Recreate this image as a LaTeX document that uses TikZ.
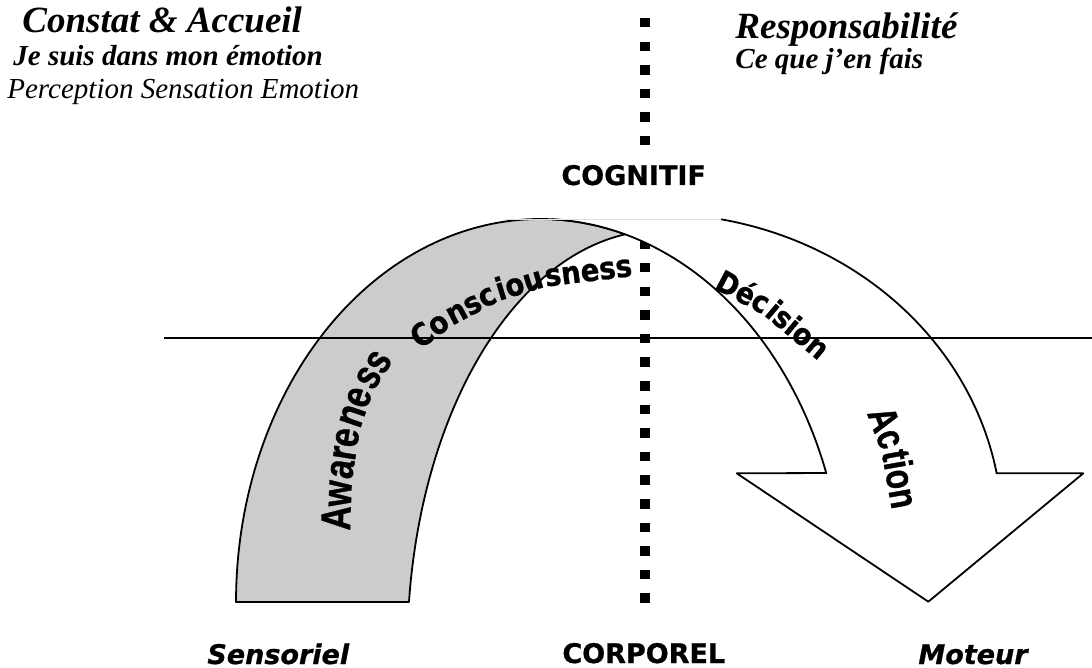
\documentclass[tikz,border=0pt]{standalone}
\usepackage{fontspec}
\setmainfont{Liberation Serif}
\newfontfamily\verd{DejaVu Sans}[FakeBold=0.8]
\newfontfamily\tahb{DejaVu Sans}[FakeStretch=0.89, FakeBold=0.8]
\newfontfamily\arlc{Liberation Sans}[FakeStretch=0.8, FakeBold=0.8]
\definecolor{bandgray}{RGB}{204,204,204}
\newcommand\labfont{\tahb\bfseries\fontsize{15.5}{17}\selectfont}
\newcommand\decfont{\tahb\bfseries\fontsize{15}{17}\selectfont}
\newcommand\awfont{\arlc\bfseries\fontsize{21}{23}\selectfont}
\newcommand\acfont{\arlc\bfseries\fontsize{20}{22}\selectfont}
\tikzset{
  titletext/.style={anchor=base west, inner sep=0pt, font=\bfseries\itshape\fontsize{18.5}{20}\selectfont},
  subtext/.style={anchor=base west, inner sep=0pt, font=\bfseries\itshape\fontsize{14.5}{16}\selectfont},
  plaintext/.style={anchor=base west, inner sep=0pt, font=\itshape\fontsize{14.5}{16}\selectfont},
  levellabel/.style={anchor=base west, inner sep=0pt, font=\verd\bfseries\fontsize{13.5}{15}\selectfont},
  sidelabel/.style={anchor=base west, inner sep=0pt, font=\verd\bfseries\itshape\fontsize{13.5}{15}\selectfont},
  arclabel/.style={anchor=base west, inner sep=0pt, font=\labfont},
  declabel/.style={anchor=base west, inner sep=0pt, font=\decfont},
  awlabel/.style={anchor=base west, inner sep=0pt, font=\awfont},
  actlabel/.style={anchor=base west, inner sep=0pt, font=\acfont},
  outline/.style={line width=0.9pt, line join=round},
  dotline/.style={line width=5pt, dash pattern=on 4.75pt off 7.05pt},
  axisline/.style={line width=1.2pt},
}
\begin{document}
\begin{tikzpicture}[x=0.5pt,y=-0.5pt]
\useasboundingbox (0,0) rectangle (1092,668);

% dotted vertical line
\coordinate (dt1) at (645,18);
\coordinate (dt2) at (645,146);
\coordinate (db1) at (645,239.4);
\coordinate (db2) at (645,604);
\draw[dotline] (dt1) -- (dt2);
\draw[dotline] (db1) -- (db2);

% gray band (Awareness / Consciousness)
\path[fill=bandgray]
  plot[domain=180:73.74, samples=80] ({540+304*cos(\x)}, {602-383*sin(\x)})
  -- plot[domain=97.94:173.43, samples=80] ({660+252.7*cos(\x)}, {650-419.7*sin(\x)})
  -- cycle;
\draw[outline]
  plot[domain=180:73.74, samples=80] ({540+304*cos(\x)}, {602-383*sin(\x)})
  -- plot[domain=97.94:173.43, samples=80] ({660+252.7*cos(\x)}, {650-419.7*sin(\x)})
  -- cycle;

% right arrow (Decision / Action)
\coordinate (lb) at (736.7,473.3);
\coordinate (tip) at (928.3,601.7);
\coordinate (rb) at (1083.3,473.3);
\coordinate (oj) at (996.7,473.3);
\path[fill=white]
  plot[domain=87.7:19.68, samples=80] ({540+304*cos(\x)}, {602-383*sin(\x)})
  -- (lb) -- (tip) -- (rb) -- (oj)
  -- plot[domain=10.32:79.02, samples=80] ({655+347.3*cos(\x)}, {530-316.5*sin(\x)})
  -- cycle;
\draw[outline]
  plot[domain=87.7:19.68, samples=80] ({540+304*cos(\x)}, {602-383*sin(\x)})
  -- (lb) -- (tip) -- (rb) -- (oj)
  -- plot[domain=10.32:79.02, samples=80] ({655+347.3*cos(\x)}, {530-316.5*sin(\x)});
\coordinate (f1) at (505,219.3);
\coordinate (f2) at (721.2,219.3);
\draw[black!12, line width=0.4pt] (f1) -- (f2);

% horizontal line
\coordinate (h1) at (164,337.7);
\coordinate (h2) at (1092,337.7);
\draw[axisline] (h1) -- (h2);

% curved labels, set in pieces following the arcs
\node[arclabel, rotate=37] (cs1) at (420,350) {Co};
\node[arclabel, rotate=28] (cs2) at (cs1.base east) {nsc};
\node[arclabel, rotate=17] (cs3) at (cs2.base east) {iou};
\node[arclabel, rotate=7] (cs4) at (cs3.base east) {sness};
\node[awlabel, rotate=88] (aw1) at (350,531) {Aw};
\node[awlabel, rotate=81] (aw2) at (aw1.base east) {are};
\node[awlabel, rotate=71] (aw3) at (aw2.base east) {ne};
\node[awlabel, rotate=57] (aw4) at (aw3.base east) {ss};
\node[declabel, rotate=-28] (dc1) at (713,288) {Déc};
\node[declabel, rotate=-40] (dc2) at (dc1.base east) {ision};
\node[actlabel, rotate=-69] (ac1) at (866.7,413) {Ac};
\node[actlabel, rotate=-80] (ac2) at (ac1.base east) {tion};

% titles
\node[titletext] (constat) at (22,33) {Constat \& Accueil};
\node[subtext] (jesuis) at (13,66) {Je suis dans mon émotion};
\node[plaintext] (percep) at (7,99) {Perception Sensation Emotion};
\node[titletext] (resp) at (735,39) {Responsabilité};
\node[subtext] (cequej) at (735,69) {Ce que j’en fais};

% level labels
\node[levellabel] (cog) at (561,185) {COGNITIF};
\node[levellabel] (corp) at (562,663) {CORPOREL};
\node[sidelabel] (sens) at (207,664) {Sensoriel};
\node[sidelabel] (mot) at (918,664) {Moteur};
\end{tikzpicture}
\end{document}
